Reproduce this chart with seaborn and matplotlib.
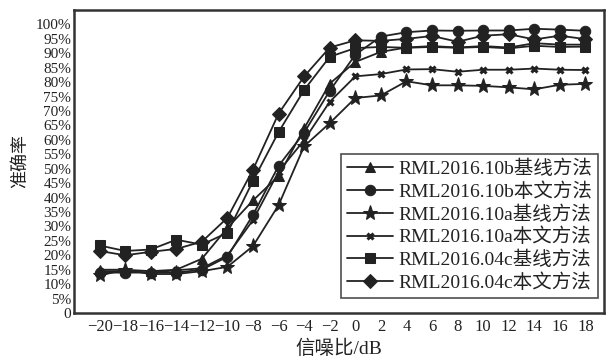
import matplotlib
matplotlib.use("Agg")
import matplotlib.pyplot as plt
import seaborn as sns
import pandas as pd

snr = [-20, -18, -16, -14, -12, -10, -8, -6, -4, -2, 0, 2, 4, 6, 8, 10, 12, 14, 16, 18]

b10_base = [15, 15, 14.5, 15, 18.8, 29.5, 39, 47.5, 64, 79.5, 87, 90.5, 92, 92.5, 92, 92.5, 92, 93.5, 93, 93]
b10_ours = [14, 14, 14, 14, 15, 19.5, 34, 51, 62.5, 77, 89.5, 95.8, 97.3, 97.9, 97.8, 97.9, 97.9, 98.5, 98.2, 97.8]
a10_base = [13, 15, 13.5, 13.5, 14.5, 16, 23.2, 37.4, 57.8, 65.8, 74.5, 75.4, 80.3, 78.9, 78.9, 78.7, 78.2, 77.5, 79.1, 79.4]
a10_ours = [14.5, 14.5, 14, 14.8, 15.5, 20, 32.2, 49, 59.9, 73.2, 82, 82.8, 84.4, 84.5, 83.6, 84.3, 84.3, 84.7, 84.3, 84.2]
c04_base = [23.4, 21.5, 22, 25.4, 23.7, 27.8, 45.8, 62.7, 77.3, 88.8, 91.8, 92.2, 91.9, 92.2, 91.9, 92.2, 91.7, 92.6, 92.2, 92.3]
c04_ours = [21.5, 20, 21.2, 22.2, 24.7, 33, 49.7, 69.1, 82, 92, 94.5, 94.3, 95, 96, 94, 96.1, 96.6, 94.8, 96.1, 94.9]

labels = ["RML2016.10b基线方法", "RML2016.10b本文方法", "RML2016.10a基线方法",
          "RML2016.10a本文方法", "RML2016.04c基线方法", "RML2016.04c本文方法"]
series = [b10_base, b10_ours, a10_base, a10_ours, c04_base, c04_ours]

yticks = list(range(0, 101, 5))
ytick_labels = ["0"] + [f"{v}%" for v in yticks[1:]]

sns.set_theme(style="white")
plt.rcParams['font.family'] = ['Liberation Serif', 'Noto Sans CJK SC']
plt.rcParams['axes.unicode_minus'] = True

fig = plt.figure(figsize=(6.12, 3.59), dpi=100)
ax = fig.add_axes([74/612, 1-313/359, 530/612, 303/359])

marker_styles = [
    dict(marker='^', markersize=7.5),
    dict(marker='o', markersize=7.5),
    dict(marker='*', markersize=11),
    dict(marker='x', markersize=5, markeredgewidth=2.2),
    dict(marker='s', markersize=7.5),
    dict(marker='D', markersize=7),
]

for lab, vals, ms in zip(labels, series, marker_styles):
    df = pd.DataFrame({"snr": snr, "acc": vals})
    sns.lineplot(data=df, x="snr", y="acc", ax=ax, color="#222222", linewidth=1.3,
                 label=lab, markeredgecolor="#222222", markerfacecolor="#222222", **ms)

ax.set_xlim(-22, 19.45)
ax.set_ylim(0, 105)
ax.set_xticks(snr)
ax.set_xticklabels([str(v).replace('-', '\u2212') for v in snr], fontsize=12)
ax.set_yticks(yticks)
ax.set_yticklabels(ytick_labels, fontsize=11)
ax.tick_params(direction='in', length=4, width=1.5, color='#222222', pad=2, labelcolor='#222222')
ax.tick_params(axis='x', pad=4)
for sp in ax.spines.values():
    sp.set_linewidth(1.8)
    sp.set_color('#333333')

ax.set_xlabel("信噪比/dB", fontsize=14, labelpad=4, color='#222222')
ax.set_ylabel("准确率", fontsize=13, labelpad=5, color='#222222')

leg = ax.legend(loc='lower right', bbox_to_anchor=(0.989, 0.05), borderaxespad=0,
                fontsize=14, frameon=True, fancybox=False, handlelength=2.35,
                labelspacing=0.22, borderpad=0.3, handletextpad=0.3)
leg.get_frame().set_edgecolor('#222222')
leg.get_frame().set_linewidth(1.2)
for t in leg.get_texts():
    t.set_color('#222222')

fig.savefig("out.png", dpi=100)
